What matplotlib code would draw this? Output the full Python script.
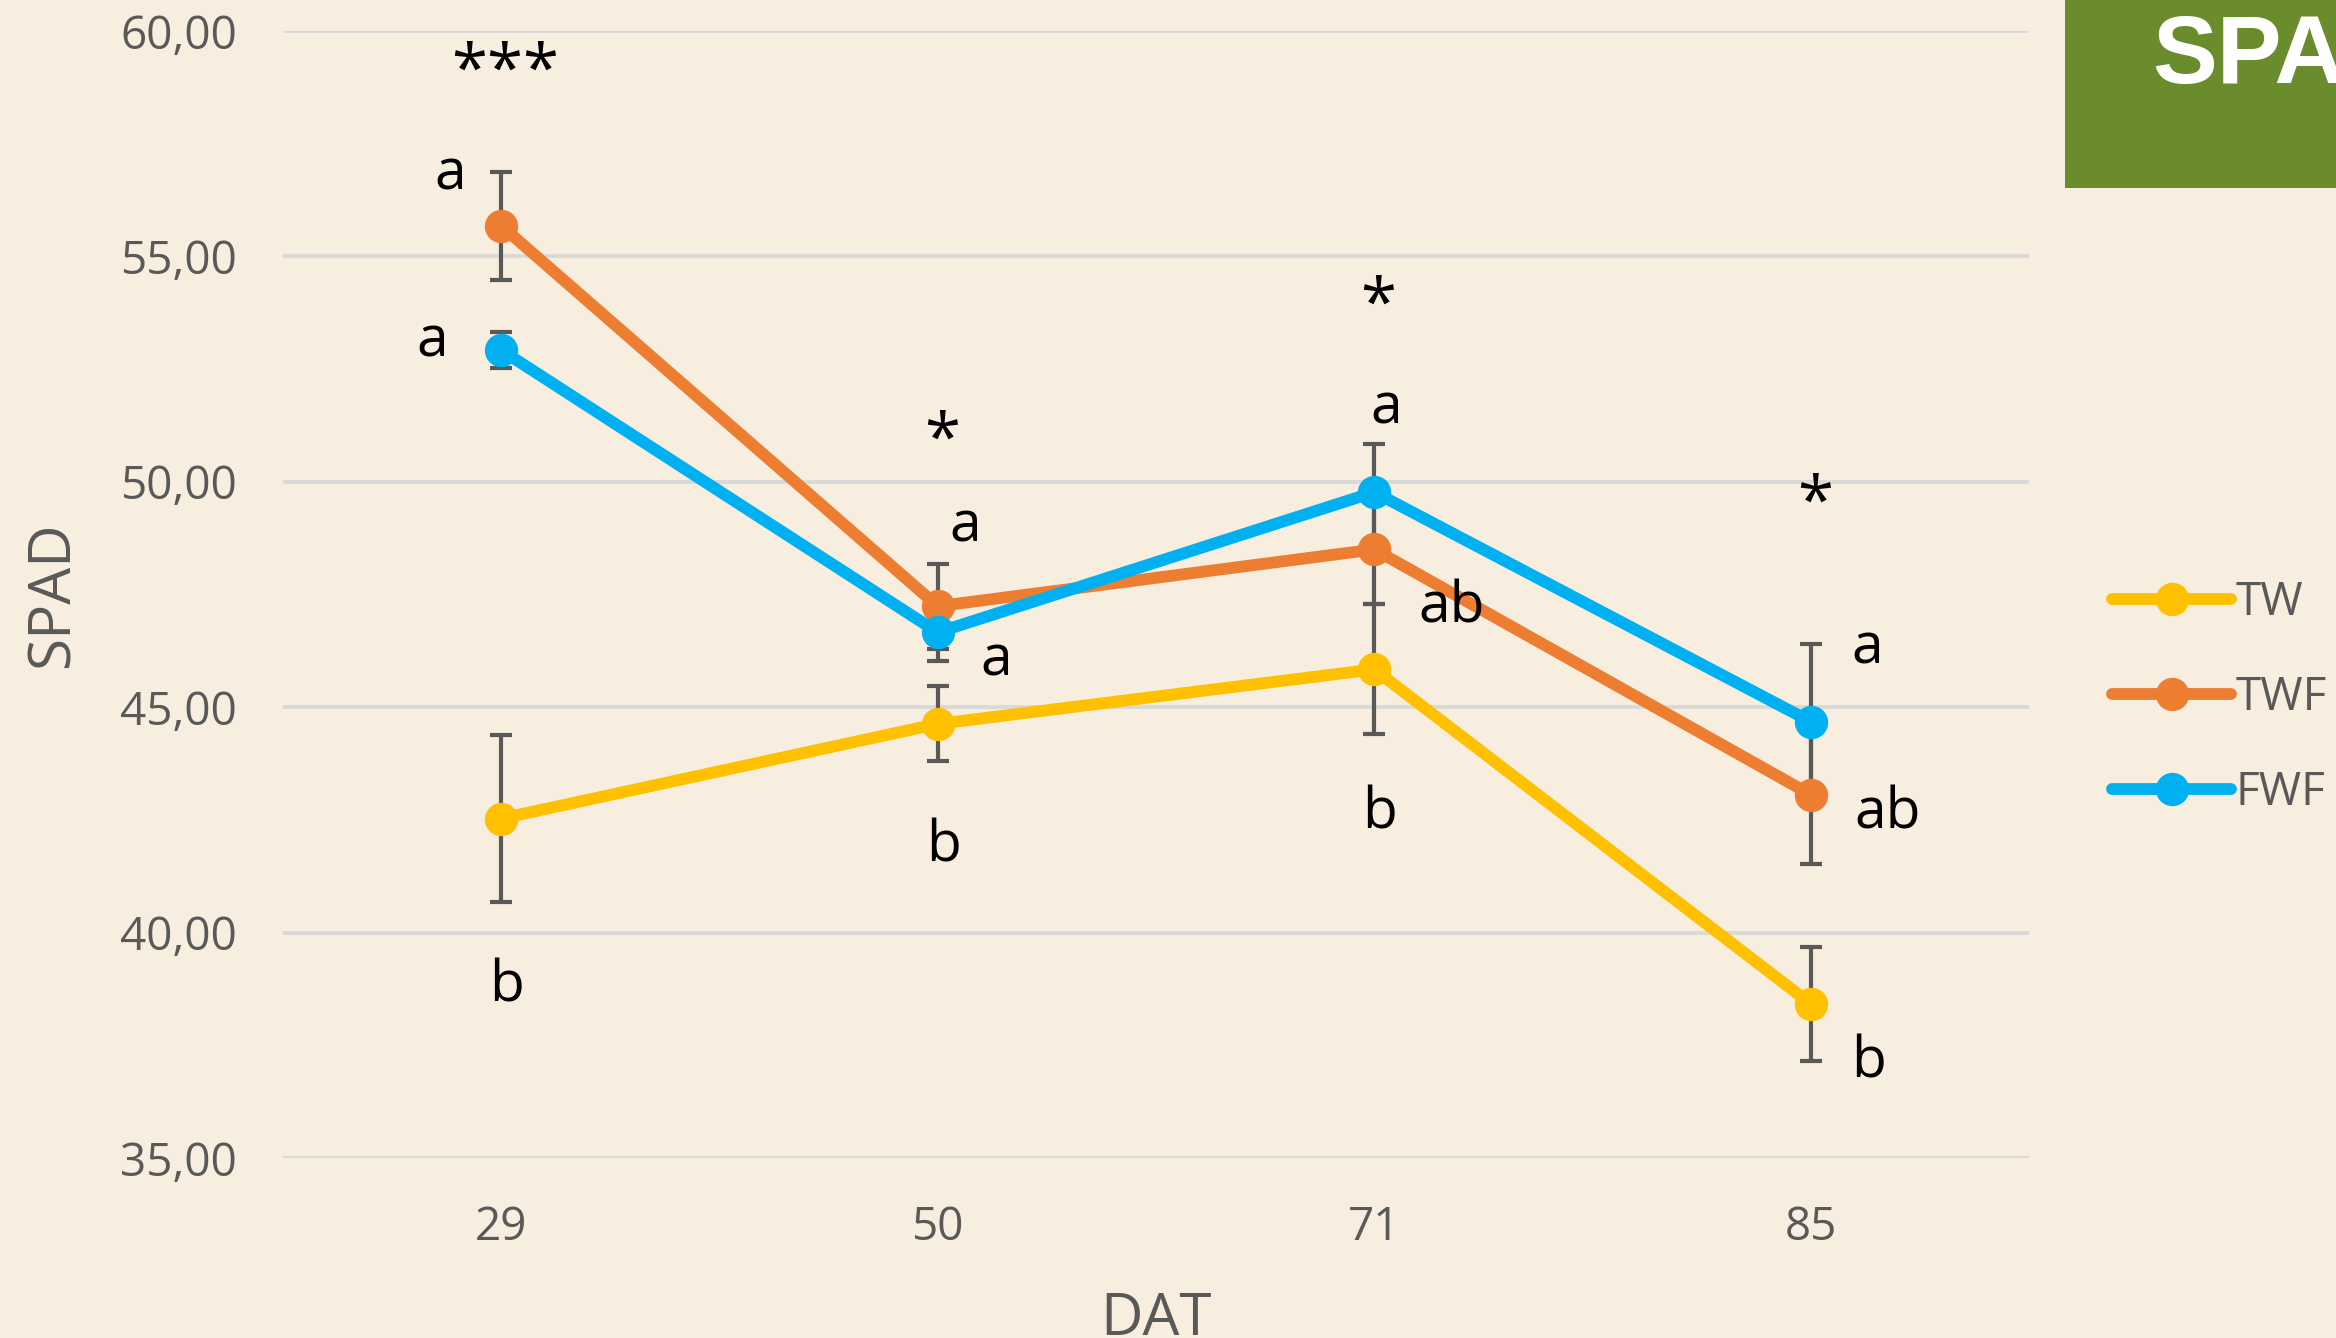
import matplotlib
matplotlib.use("Agg")
import matplotlib.pyplot as plt
from matplotlib.ticker import FuncFormatter
import numpy as np

# SPAD readings at each sampling date (days after transplanting)
dat_labels = ["29", "50", "71", "85"]
series_names = ["TW", "TWF", "FWF"]
tw_mean = [42.53, 44.63, 45.84, 38.42]
twf_mean = [55.68, 47.24, 48.50, 43.06]
fwf_mean = [52.92, 46.66, 49.77, 44.68]
tw_err = [1.85, 0.83, 1.44, 1.26]
twf_err = [1.20, 0.94, 1.22, 1.53]
fwf_err = [0.40, 0.63, 1.06, 1.73]

# significance marks and letter groupings: (date index, y, text, x shift)
sig_marks = [(0, 59.06, "***"), (1, 50.87, "*"), (2, 53.87, "*"), (3, 49.48, "*")]
letters = [
    (0, 56.80, "a", -0.118), (0, 53.10, "a", -0.159), (0, 38.80, "b", 0.012),
    (1, 49.00, "a", 0.062), (1, 46.03, "a", 0.134), (1, 41.90, "b", 0.014),
    (2, 51.61, "a", 0.027), (2, 47.19, "ab", 0.178), (2, 42.63, "b", 0.013),
    (3, 46.29, "a", 0.129), (3, 42.63, "ab", 0.177), (3, 37.11, "b", 0.133),
]

colors = ["#FFC000", "#ED7D31", "#00B0F0"]
bg = "#F7EEDF"
gray = "#595959"
font = ["Open Sans", "DejaVu Sans"]
plt.rcParams["font.family"] = font

W, H, DPI = 2336, 1338, 100
fig = plt.figure(figsize=(W / DPI, H / DPI), dpi=DPI, facecolor=bg)
ax = fig.add_axes([283 / W, 1 - 1158 / H, (2029 - 283) / W, (1158 - 31) / H])
ax.set_facecolor(bg)

x = np.arange(len(dat_labels))
means = [tw_mean, twf_mean, fwf_mean]
errs = [tw_err, twf_err, fwf_err]

for m, e in zip(means, errs):
    ax.errorbar(x, m, yerr=e, fmt="none", ecolor=gray, elinewidth=3,
                capsize=8, capthick=3, zorder=3)

for i, (name, m, c) in enumerate(zip(series_names, means, colors)):
    ax.plot(x, m, color=c, lw=8.5, marker="o", ms=23, label=name,
            solid_capstyle="round", zorder=4 + i)

for xi, y, t in sig_marks:
    ax.text(xi + 0.01, y, t, ha="center", va="center", fontsize=47,
            color="black", zorder=10)
for xi, y, t, dx in letters:
    ax.text(xi + dx, y, t, ha="center", va="center", fontsize=41,
            color="black", zorder=10)

ax.set_xlim(-0.5, 3.5)
ax.set_ylim(35, 60)
ax.set_yticks([35, 40, 45, 50, 55, 60])
ax.yaxis.set_major_formatter(FuncFormatter(lambda v, p: f"{v:.2f}".replace(".", ",")))
ax.set_xticks(x)
ax.set_xticklabels(dat_labels)
ax.tick_params(axis="both", length=0, labelsize=33, labelcolor=gray)
ax.tick_params(axis="y", pad=33)
ax.tick_params(axis="x", pad=34)
ax.grid(axis="y", color="#D9D9D9", lw=2.8, zorder=0)
ax.set_axisbelow(True)
for s in ax.spines.values():
    s.set_visible(False)

ax.set_ylabel("SPAD", fontsize=42, color=gray, labelpad=27)
ax.set_xlabel("DAT", fontsize=42, color=gray, labelpad=28)

leg = ax.legend(loc="center left", bbox_to_anchor=(2112 / W, 1 - 698 / H),
                bbox_transform=fig.transFigure, frameon=False, fontsize=33,
                handlelength=2.6, handletextpad=0.1, labelspacing=1.07,
                borderpad=0, borderaxespad=0)
for t in leg.get_texts():
    t.set_color(gray)

# green title block in the top-right corner
fig.patches.append(plt.Rectangle((2065 / W, 1 - 188 / H), (W - 2065) / W, 188 / H,
                                 transform=fig.transFigure, facecolor="#6A8C2C",
                                 edgecolor="none", zorder=0))
fig.text(2152 / W, 1 - 83 / H, "SPAD", color="white", fontsize=70,
         fontweight="bold", family=["Liberation Sans", "DejaVu Sans"],
         ha="left", va="baseline")

fig.savefig("out.png", dpi=DPI, facecolor=bg)
